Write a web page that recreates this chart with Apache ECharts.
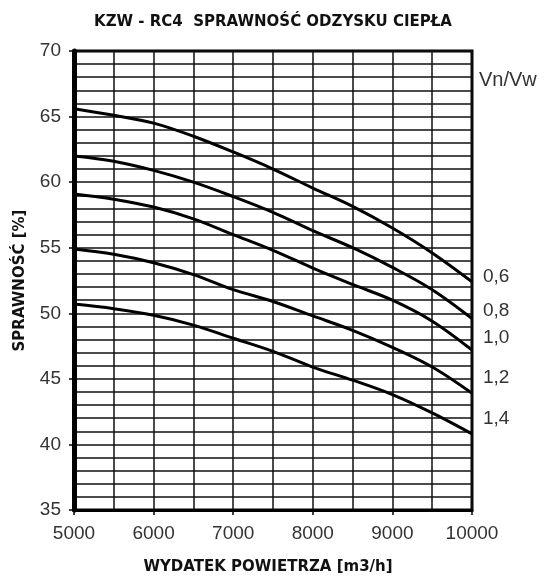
<!DOCTYPE html>
<html>
<head>
<meta charset="utf-8">
<script src="https://cdn.jsdelivr.net/npm/echarts@6/dist/echarts.min.js"></script>
<style>
  html, body { margin: 0; padding: 0; background: #fff; }
  #chart { width: 548px; height: 580px; }
</style>
</head>
<body>
<div id="chart"></div>
<script>
// wydatek powietrza [m3/h]
const airflow = [5000, 5500, 6000, 6500, 7000, 7500, 8000, 8500, 9000, 9500, 10000];
// sprawność [%] dla poszczególnych Vn/Vw
const eff06 = [65.6, 65.1, 64.5, 63.5, 62.3, 61.0, 59.55, 58.15, 56.5, 54.6, 52.4];
const eff08 = [62.0, 61.6, 60.9, 60.0, 58.9, 57.7, 56.3, 55.0, 53.5, 51.8, 49.6];
const eff10 = [59.1, 58.7, 58.1, 57.2, 56.0, 54.8, 53.45, 52.2, 51.0, 49.4, 47.2];
const eff12 = [54.9, 54.5, 53.85, 52.95, 51.8, 50.9, 49.8, 48.7, 47.4, 45.9, 43.9];
const eff14 = [50.7, 50.35, 49.85, 49.1, 48.1, 47.1, 45.9, 44.9, 43.8, 42.4, 40.8];
const ratioNames = ["0,6", "0,8", "1,0", "1,2", "1,4"];
const ratioData = [eff06, eff08, eff10, eff12, eff14];
// środki podpisów Vn/Vw po prawej (px)
const ratioLabelY = [277, 311, 338, 378, 419];

const FONT = "Liberation Sans, Arial, sans-serif";
const BOLD = "DejaVu Sans, Liberation Sans, sans-serif";

const chart = echarts.init(document.getElementById("chart"));

const series = ratioData.map((vals, i) => ({
  name: ratioNames[i],
  type: "line",
  data: airflow.map((x, j) => [x, vals[j]]),
  smooth: 0.35,
  showSymbol: false,
  lineStyle: { color: "#000", width: 3 },
  z: 5,
}));

const graphics = [
  {
    type: "text",
    x: 479,
    y: 80,
    style: { text: "Vn/Vw", font: "20px " + FONT, fill: "#333", verticalAlign: "middle" },
  },
].concat(
  ratioNames.map((n, i) => ({
    type: "text",
    x: 483,
    y: ratioLabelY[i],
    style: { text: n, font: "19px " + FONT, fill: "#333", verticalAlign: "middle" },
  }))
);

const option = {
  animation: false,
  title: {
    text: "KZW - RC4  SPRAWNOŚĆ ODZYSKU CIEPŁA",
    left: 268,
    top: 10,
    textAlign: "center",
    textStyle: { fontFamily: BOLD, fontSize: 15, fontWeight: "bold", color: "#111" },
  },
  grid: {
    left: 74,
    right: 76,
    top: 51,
    bottom: 67,
    show: true,
    borderColor: "#000",
    borderWidth: 3,
    containLabel: false,
  },
  xAxis: {
    type: "value",
    min: 5000,
    max: 10000,
    interval: 1000,
    name: "WYDATEK POWIETRZA [m3/h]",
    nameLocation: "middle",
    nameGap: 50,
    nameTextStyle: {
      fontFamily: BOLD,
      fontSize: 15,
      fontWeight: "bold",
      color: "#111",
      padding: [0, 10, 0, 0],
    },
    axisLine: { show: true, onZero: false, lineStyle: { color: "#000", width: 3 } },
    axisTick: { show: true, length: 5, lineStyle: { color: "#000", width: 1.5 } },
    axisLabel: {
      fontFamily: FONT,
      fontSize: 19,
      color: "#333",
      margin: 14,
      formatter: (v) => String(v),
    },
    splitLine: { show: true, lineStyle: { color: "#111", width: 1.5 } },
    minorTick: { show: false, splitNumber: 2 },
    minorSplitLine: { show: true, lineStyle: { color: "#111", width: 1.5 } },
  },
  yAxis: {
    type: "value",
    min: 35,
    max: 70,
    interval: 5,
    name: "SPRAWNOŚĆ [%]",
    nameLocation: "middle",
    nameGap: 46,
    nameRotate: 90,
    nameTextStyle: { fontFamily: BOLD, fontSize: 15, fontWeight: "bold", color: "#111" },
    axisLine: { show: true, lineStyle: { color: "#000", width: 5 } },
    axisTick: { show: true, length: 5, lineStyle: { color: "#000", width: 1.5 } },
    axisLabel: { fontFamily: FONT, fontSize: 19, color: "#333", margin: 13 },
    splitLine: { show: true, lineStyle: { color: "#111", width: 1.5 } },
    minorTick: { show: false, splitNumber: 5 },
    minorSplitLine: { show: true, lineStyle: { color: "#111", width: 1.5 } },
  },
  series: series,
  graphic: graphics,
};

chart.setOption(option);
</script>
</body>
</html>
